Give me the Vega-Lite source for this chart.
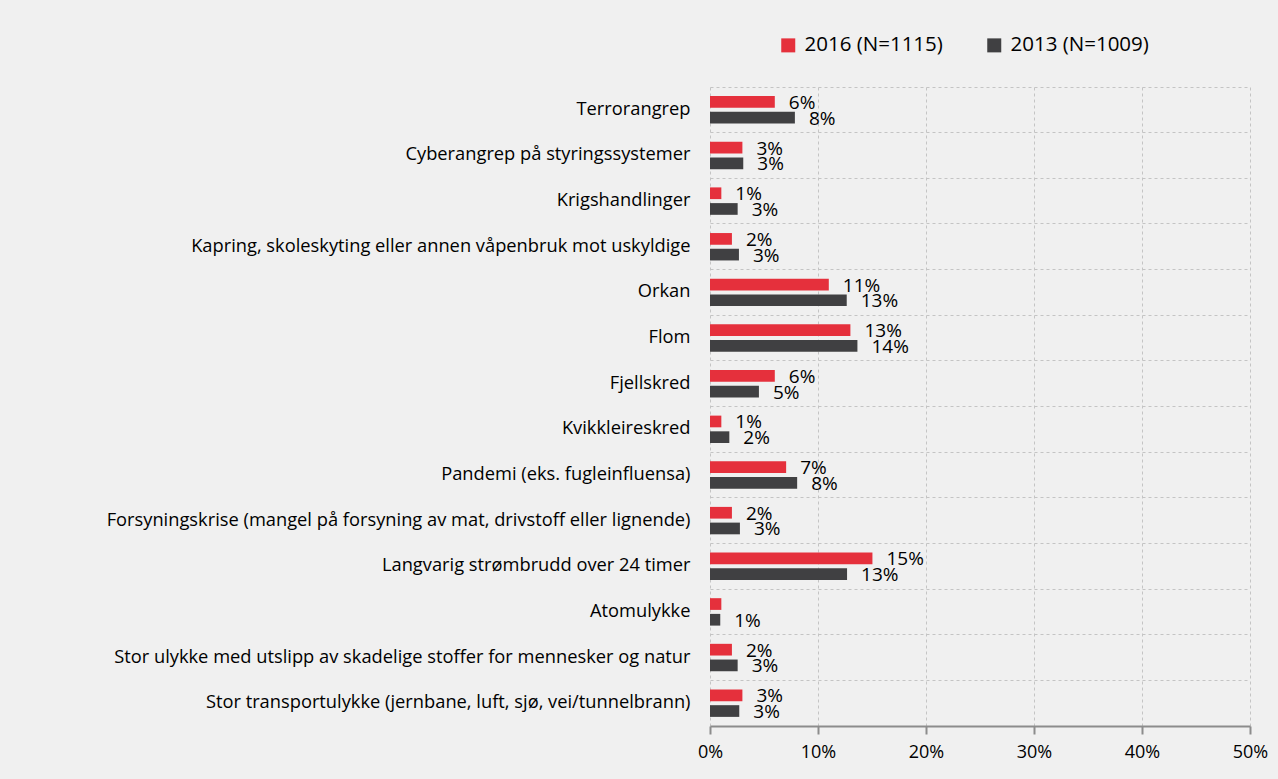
{
  "$schema": "https://vega.github.io/schema/vega-lite/v6.json",
  "width": 540,
  "height": 639,
  "autosize": {"type": "none"},
  "padding": {"left": 710, "top": 87, "right": 28, "bottom": 53},
  "background": "#f0f0f0",
  "config": {"view": {"stroke": null}, "font": "Open Sans"},
  "data": {
    "values": [
      {"category": "Terrorangrep", "year": "2016 (N=1115)", "value": 6.0, "label": "6%"},
      {"category": "Terrorangrep", "year": "2013 (N=1009)", "value": 7.86, "label": "8%"},
      {"category": "Cyberangrep på styringssystemer", "year": "2016 (N=1115)", "value": 3.0, "label": "3%"},
      {"category": "Cyberangrep på styringssystemer", "year": "2013 (N=1009)", "value": 3.08, "label": "3%"},
      {"category": "Krigshandlinger", "year": "2016 (N=1115)", "value": 1.05, "label": "1%"},
      {"category": "Krigshandlinger", "year": "2013 (N=1009)", "value": 2.56, "label": "3%"},
      {"category": "Kapring, skoleskyting eller annen våpenbruk mot uskyldige", "year": "2016 (N=1115)", "value": 2.03, "label": "2%"},
      {"category": "Kapring, skoleskyting eller annen våpenbruk mot uskyldige", "year": "2013 (N=1009)", "value": 2.68, "label": "3%"},
      {"category": "Orkan", "year": "2016 (N=1115)", "value": 11.0, "label": "11%"},
      {"category": "Orkan", "year": "2013 (N=1009)", "value": 12.66, "label": "13%"},
      {"category": "Flom", "year": "2016 (N=1115)", "value": 13.0, "label": "13%"},
      {"category": "Flom", "year": "2013 (N=1009)", "value": 13.65, "label": "14%"},
      {"category": "Fjellskred", "year": "2016 (N=1115)", "value": 6.0, "label": "6%"},
      {"category": "Fjellskred", "year": "2013 (N=1009)", "value": 4.53, "label": "5%"},
      {"category": "Kvikkleireskred", "year": "2016 (N=1115)", "value": 1.05, "label": "1%"},
      {"category": "Kvikkleireskred", "year": "2013 (N=1009)", "value": 1.79, "label": "2%"},
      {"category": "Pandemi (eks. fugleinfluensa)", "year": "2016 (N=1115)", "value": 7.05, "label": "7%"},
      {"category": "Pandemi (eks. fugleinfluensa)", "year": "2013 (N=1009)", "value": 8.07, "label": "8%"},
      {"category": "Forsyningskrise (mangel på forsyning av mat, drivstoff eller lignende)", "year": "2016 (N=1115)", "value": 2.03, "label": "2%"},
      {"category": "Forsyningskrise (mangel på forsyning av mat, drivstoff eller lignende)", "year": "2013 (N=1009)", "value": 2.77, "label": "3%"},
      {"category": "Langvarig strømbrudd over 24 timer", "year": "2016 (N=1115)", "value": 15.04, "label": "15%"},
      {"category": "Langvarig strømbrudd over 24 timer", "year": "2013 (N=1009)", "value": 12.69, "label": "13%"},
      {"category": "Atomulykke", "year": "2016 (N=1115)", "value": 1.05, "label": ""},
      {"category": "Atomulykke", "year": "2013 (N=1009)", "value": 0.95, "label": "1%"},
      {"category": "Stor ulykke med utslipp av skadelige stoffer for mennesker og natur", "year": "2016 (N=1115)", "value": 2.03, "label": "2%"},
      {"category": "Stor ulykke med utslipp av skadelige stoffer for mennesker og natur", "year": "2013 (N=1009)", "value": 2.56, "label": "3%"},
      {"category": "Stor transportulykke (jernbane, luft, sjø, vei/tunnelbrann)", "year": "2016 (N=1115)", "value": 3.0, "label": "3%"},
      {"category": "Stor transportulykke (jernbane, luft, sjø, vei/tunnelbrann)", "year": "2013 (N=1009)", "value": 2.71, "label": "3%"}
    ]
  },
  "encoding": {
    "y": {
      "field": "category",
      "type": "nominal",
      "sort": null,
      "scale": {"paddingInner": 0, "paddingOuter": 0},
      "axis": {
        "title": null,
        "domain": false,
        "ticks": false,
        "grid": true,
        "bandPosition": 0,
        "gridDash": [3, 3],
        "gridColor": "#c4c4c4",
        "labelFontSize": 18.3,
        "labelPadding": 20,
        "labelColor": "#000000",
        "labelLimit": 700
      }
    },
    "yOffset": {
      "field": "year",
      "type": "nominal",
      "sort": ["2016 (N=1115)", "2013 (N=1009)"],
      "scale": {"paddingInner": 0.255, "paddingOuter": 0.58}
    },
    "x": {
      "field": "value",
      "type": "quantitative",
      "scale": {"domain": [0, 50], "nice": false},
      "axis": {
        "title": null,
        "values": [0, 10, 20, 30, 40, 50],
        "labelExpr": "datum.value + '%'",
        "grid": true,
        "gridDash": [3, 3],
        "gridColor": "#c4c4c4",
        "domainColor": "#8c8c8c",
        "domainWidth": 2,
        "tickColor": "#8c8c8c",
        "tickWidth": 2,
        "tickSize": 8,
        "labelFontSize": 18,
        "labelColor": "#000000",
        "labelPadding": 9,
        "labelFlush": false
      }
    }
  },
  "layer": [
    {
      "mark": {"type": "bar"},
      "encoding": {
        "color": {
          "field": "year",
          "type": "nominal",
          "scale": {"domain": ["2016 (N=1115)", "2013 (N=1009)"], "range": ["#e5303c", "#404042"]},
          "legend": {
            "title": null,
            "orient": "none",
            "legendX": 68,
            "legendY": -52,
            "direction": "horizontal",
            "symbolType": "square",
            "symbolSize": 196,
            "symbolStrokeWidth": 0,
            "labelFontSize": 20.5,
            "labelColor": "#000000",
            "labelOffset": 6,
            "columnPadding": 41
          }
        }
      }
    },
    {
      "mark": {"type": "text", "align": "left", "baseline": "middle", "dx": 14, "dy": 1, "fontSize": 19, "color": "#000000"},
      "encoding": {"text": {"field": "label"}}
    }
  ]
}
